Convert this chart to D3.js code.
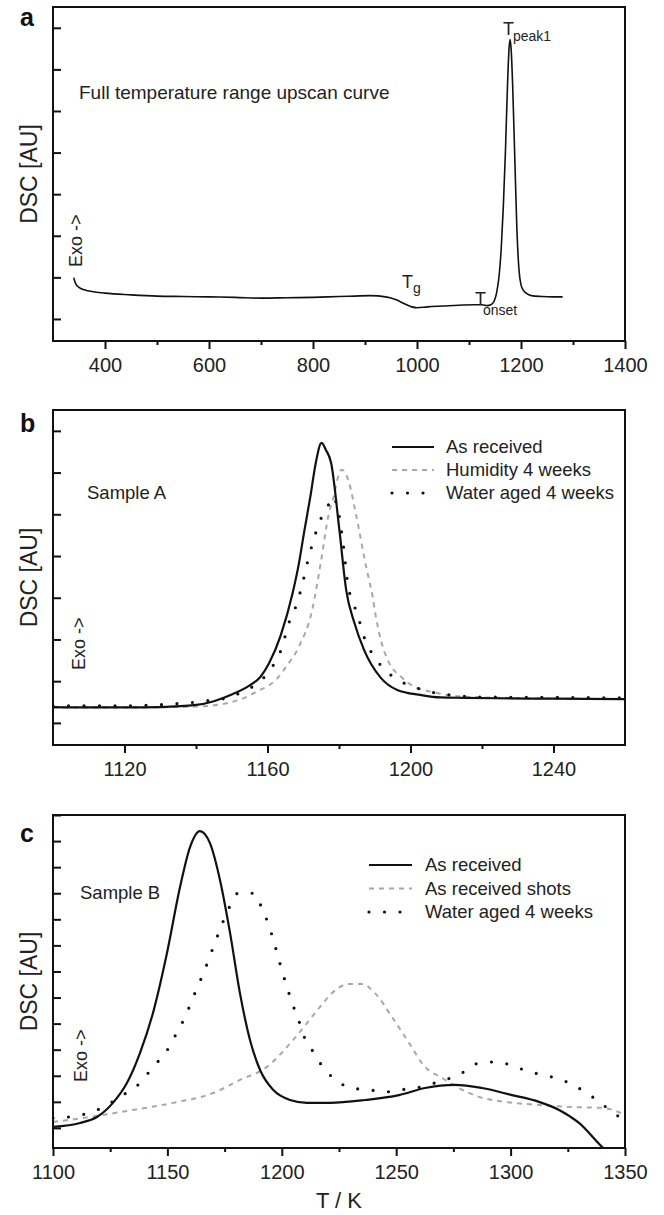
<!DOCTYPE html>
<html><head><meta charset="utf-8">
<script src="https://cdn.jsdelivr.net/npm/d3@7"></script>
<style>
html,body{margin:0;padding:0;background:#fff;}
svg{display:block;font-family:"Liberation Sans",Arial,Helvetica,sans-serif;}
</style></head>
<body><svg id="chart" width="664" height="1215"></svg>
<script>
// ---------- DATA ----------
// Panel a: full temperature range upscan curve
const aT   = [340,342,345,350,360,380,400,450,500,550,600,650,700,750,800,850,880,910,940,960,975,990,1000,1020,1050,1080,1110,1125,1135,1142,1148,1153,1158,1162,1166,1170,1174,1177,1179,1181,1184,1188,1192,1196,1200,1205,1210,1220,1240,1260,1280];
const aDSC = [0.99,0.9,0.82,0.76,0.70,0.65,0.62,0.58,0.55,0.54,0.53,0.52,0.50,0.51,0.52,0.54,0.55,0.56,0.53,0.46,0.37,0.29,0.27,0.29,0.31,0.33,0.34,0.34,0.32,0.34,0.42,0.62,1.05,1.7,2.7,4.0,5.6,6.5,6.72,6.5,5.6,3.9,2.2,1.2,0.82,0.68,0.62,0.56,0.54,0.53,0.53];
const aXMajor = [400,600,800,1000,1200,1400];
const aXMinor = [500,700,900,1100,1300];

// Panel b: Sample A
const bAsReceivedT = [1100,1110,1120,1130,1140,1145,1150,1155,1158,1160.5,1163.7,1167,1168.8,1170.2,1172,1173.5,1175.1,1176.3,1177.8,1180.1,1182,1184.3,1187,1191.7,1196.3,1202.8,1208.4,1215,1224,1240,1260];
const bAsReceived  = [0.38,0.37,0.37,0.38,0.43,0.52,0.68,0.90,1.10,1.44,2.10,3.10,3.83,4.55,5.43,6.23,6.71,6.55,6.23,4.63,3.19,2.40,1.75,1.08,0.79,0.67,0.61,0.60,0.59,0.58,0.57];
const bHumidityT   = [1100,1120,1140,1152,1157,1162.3,1165.5,1168.8,1172.5,1174.9,1177.2,1178.6,1179.6,1180.8,1182,1183.3,1184.5,1185.6,1187,1188.4,1189.4,1190.3,1191.7,1194,1197.3,1201,1205.6,1214.9,1233.5,1260];
const bHumidity    = [0.37,0.37,0.39,0.55,0.75,1.03,1.38,1.83,2.71,3.84,5.04,5.45,5.85,6.07,5.95,5.6,5.1,4.63,3.99,3.43,3.03,2.55,1.99,1.44,1.11,0.87,0.75,0.63,0.59,0.57];
const bWaterT      = [1100,1120,1137.6,1140.4,1144.6,1149,1153,1157.7,1161.3,1163.8,1166,1168.3,1169.7,1171.6,1173,1174.4,1176.6,1178,1179.5,1181,1182.6,1184.2,1185.6,1187,1189,1192.3,1196.5,1201,1205.7,1212,1220,1240,1260];
const bWater       = [0.41,0.41,0.48,0.50,0.55,0.60,0.75,0.98,1.34,1.75,2.40,2.88,3.31,4.0,4.41,4.80,5.11,5.42,5.2,4.4,3.26,2.83,2.47,2.06,1.70,1.32,1.03,0.86,0.74,0.66,0.62,0.61,0.60];
const bXMajor = [1120,1160,1200,1240];
const bXMinor = [1140,1180,1220];
const bLegend = ["As received","Humidity 4 weeks","Water aged 4 weeks"];

// Panel c: Sample B
const cAsReceivedT = [1100,1111.8,1119.2,1126.2,1132.3,1138,1143.7,1149.8,1155.5,1159.9,1164.2,1168.6,1173,1177.4,1181.7,1186.1,1190.5,1196.2,1203.6,1211,1221,1236.4,1251.2,1262.6,1275.7,1287.5,1300.6,1312.4,1321.2,1329.9,1340,1342];
const cAsReceived  = [0.04,0.19,0.42,0.96,1.72,2.87,4.41,6.70,9.23,10.77,11.38,10.92,9.50,7.47,5.17,3.37,2.22,1.46,1.07,0.96,0.96,1.07,1.26,1.53,1.65,1.53,1.26,1.0,0.69,0.19,-0.73,-0.9];
const cShotsT      = [1100,1113.1,1135,1152.5,1170,1181.7,1193.5,1204.9,1216.7,1221.9,1229.4,1235,1240.7,1248.2,1255.6,1262.6,1270,1277.4,1286.2,1297.6,1312.4,1326.8,1340,1350];
const cShots       = [0.23,0.38,0.69,0.96,1.34,1.84,2.34,3.37,4.64,5.17,5.52,5.52,5.17,4.25,3.26,2.34,1.92,1.53,1.19,1.0,0.88,0.80,0.77,0.50];
const cWaterT      = [1100,1110,1117,1130.6,1138,1143.7,1149.4,1153.3,1157.3,1160.3,1162.9,1166,1168.6,1171.2,1173.9,1176.9,1180.9,1187.8,1191.3,1194,1196.2,1198.3,1200.1,1202.3,1204.5,1207.1,1209.3,1213.2,1217.6,1224.1,1230.7,1238.1,1245.1,1251.7,1258.7,1265.6,1272.6,1279.6,1286.2,1293.2,1300.2,1307.2,1314.2,1321.2,1328.1,1335.1,1341.7,1349.1,1350];
const cWater       = [0.38,0.46,0.61,1.26,1.72,2.34,2.91,3.52,4.18,4.79,5.36,5.98,6.59,7.20,7.82,8.43,9.00,9.00,8.43,7.85,7.24,6.59,6.02,5.40,4.79,4.21,3.60,2.99,2.38,1.80,1.53,1.46,1.38,1.46,1.53,1.69,1.88,2.15,2.49,2.53,2.41,2.18,2.03,1.88,1.61,1.23,0.80,0.34,0.30];
const cXMajor = [1100,1150,1200,1250,1300,1350];
const cXMinor = [1125,1175,1225,1275,1325];
const cLegend = ["As received","As received shots","Water aged 4 weeks"];

// ---------- STYLES ----------
const STY = {
  solid:  {stroke:"#111", width:2.2, dash:null, cap:"butt"},
  dashed: {stroke:"#a8a8a8", width:2, dash:"5,5", cap:"butt"},
  dotted: {stroke:"#111", width:3.2, dash:"0,15.5", cap:"round"}
};

const svg = d3.select("#chart");
const L = 53, R = 625;

function zip(xs, ys){ return xs.map((x,i)=>[x, ys[i]]); }

function panel(cfg){
  const x = d3.scaleLinear().domain(cfg.xDomain).range([L, R]);
  const y = d3.scaleLinear().domain(cfg.yDomain).range([cfg.bottom, cfg.top]);
  const g = svg.append("g");
  const cid = "clip-" + cfg.id;
  svg.append("clipPath").attr("id", cid).append("rect")
    .attr("x", L).attr("y", cfg.top).attr("width", R-L).attr("height", cfg.bottom-cfg.top);

  // y ticks (inward, no labels)
  const ya = g.append("g").attr("transform", `translate(${L},0)`)
    .call(d3.axisRight(y).tickValues(d3.range(cfg.yTicks+1)).tickSize(8).tickFormat(""));
  ya.select(".domain").remove();
  ya.selectAll("line").attr("stroke","#111").attr("stroke-width",2);

  // x minor ticks
  const xm = g.append("g").attr("transform", `translate(0,${cfg.bottom})`)
    .call(d3.axisBottom(x).tickValues(cfg.xMinor).tickSize(4).tickFormat(""));
  xm.select(".domain").remove();
  xm.selectAll("line").attr("stroke","#111").attr("stroke-width",2);
  // x major ticks with labels
  const xa = g.append("g").attr("transform", `translate(0,${cfg.bottom})`)
    .call(d3.axisBottom(x).tickValues(cfg.xMajor).tickSize(8).tickPadding(9).tickFormat(d3.format("d")));
  xa.select(".domain").remove();
  xa.selectAll("line").attr("stroke","#111").attr("stroke-width",2);
  xa.selectAll("text").attr("font-size",20).attr("fill","#222")
    .attr("font-family",'"Liberation Sans",Arial,sans-serif');

  // curves
  const line = d3.line().x(d=>x(d[0])).y(d=>y(d[1])).curve(d3.curveMonotoneX);
  const cg = g.append("g").attr("clip-path", `url(#${cid})`);
  cfg.series.forEach(s=>{
    const st = STY[s.style];
    cg.append("path").datum(zip(s.x, s.y)).attr("d", line)
      .attr("fill","none").attr("stroke", st.stroke).attr("stroke-width", s.width || st.width)
      .attr("stroke-dasharray", st.dash).attr("stroke-linecap", st.cap)
      .attr("stroke-linejoin","round");
  });

  // frame
  g.append("rect").attr("x",L).attr("y",cfg.top).attr("width",R-L).attr("height",cfg.bottom-cfg.top)
    .attr("fill","none").attr("stroke","#111").attr("stroke-width",2);

  // panel letter
  g.append("text").attr("x",20).attr("y",cfg.letterY).attr("font-size",25).attr("font-weight","bold")
    .attr("fill","#111").text(cfg.letter);

  // y title
  g.append("text").attr("transform",`translate(37,${(cfg.top+cfg.bottom)/2}) rotate(-90)`)
    .attr("text-anchor","middle").attr("font-size",23).attr("fill","#222").text("DSC [AU]");

  // Exo
  g.append("text").attr("transform",`translate(${cfg.exoX},${cfg.exoY}) rotate(-90)`)
    .attr("font-size",18).attr("fill","#222").text("Exo ->");

  // legend
  if (cfg.legend){
    const lg = cfg.legend;
    lg.labels.forEach((lab,i)=>{
      const st = STY[lg.styles[i]];
      const yy = lg.y + i*lg.dy;
      g.append("line").attr("x1",lg.x1).attr("x2",lg.x2).attr("y1",yy).attr("y2",yy)
        .attr("stroke",st.stroke).attr("stroke-width",st.width)
        .attr("stroke-dasharray",st.dash).attr("stroke-linecap",st.cap);
      g.append("text").attr("x",lg.tx).attr("y",yy).attr("dy","0.35em")
        .attr("font-size",18.5).attr("fill","#222").text(lab);
    });
  }
  return {x, y, g};
}

// ---------- PANEL A ----------
const pa = panel({id:"a", top:7, bottom:341, xDomain:[300,1400], yDomain:[-0.53,7.5], yTicks:7,
  xMajor:aXMajor, xMinor:aXMinor, letter:"a", letterY:26, exoX:82, exoY:267,
  series:[{x:aT, y:aDSC, style:"solid", width:1.6}]});
pa.g.append("text").attr("x",79).attr("y",99).attr("font-size",19).attr("fill","#222")
  .text("Full temperature range upscan curve");
function tLabel(g, x, y, sub, subDx, subDy){
  const t = g.append("text").attr("x",x).attr("y",y).attr("font-size",18).attr("fill","#222");
  t.append("tspan").text("T");
  t.append("tspan").attr("dx",subDx).attr("dy",subDy).attr("font-size",14).text(sub);
}
tLabel(pa.g, 402, 288, "g", 0, 5);
tLabel(pa.g, 475, 305, "onset", -3, 10);
tLabel(pa.g, 503, 35, "peak1", -1, 6);

// ---------- PANEL B ----------
const pb = panel({id:"b", top:410, bottom:745, xDomain:[1100,1260], yDomain:[-0.53,7.5], yTicks:7,
  xMajor:bXMajor, xMinor:bXMinor, letter:"b", letterY:432, exoX:85, exoY:670,
  series:[
    {x:bHumidityT, y:bHumidity, style:"dashed"},
    {x:bWaterT, y:bWater, style:"dotted"},
    {x:bAsReceivedT, y:bAsReceived, style:"solid"}],
  legend:{labels:bLegend, styles:["solid","dashed","dotted"], x1:392, x2:434, tx:446, y:447, dy:23}});
pb.g.append("text").attr("x",87).attr("y",499).attr("font-size",18.5).attr("fill","#222").text("Sample A");

// ---------- PANEL C ----------
const pc = panel({id:"c", top:815, bottom:1148, xDomain:[1100,1350], yDomain:[-0.77,12], yTicks:12,
  xMajor:cXMajor, xMinor:cXMinor, letter:"c", letterY:842, exoX:87, exoY:1082,
  series:[
    {x:cShotsT, y:cShots, style:"dashed"},
    {x:cWaterT, y:cWater, style:"dotted"},
    {x:cAsReceivedT, y:cAsReceived, style:"solid"}],
  legend:{labels:cLegend, styles:["solid","dashed","dotted"], x1:369, x2:412, tx:425, y:865, dy:23.5}});
pc.g.append("text").attr("x",80).attr("y",899).attr("font-size",18.5).attr("fill","#222").text("Sample B");
pc.g.append("text").attr("x",(L+R)/2).attr("y",1208).attr("text-anchor","middle")
  .attr("font-size",22).attr("fill","#222").text("T / K");
</script></body></html>
